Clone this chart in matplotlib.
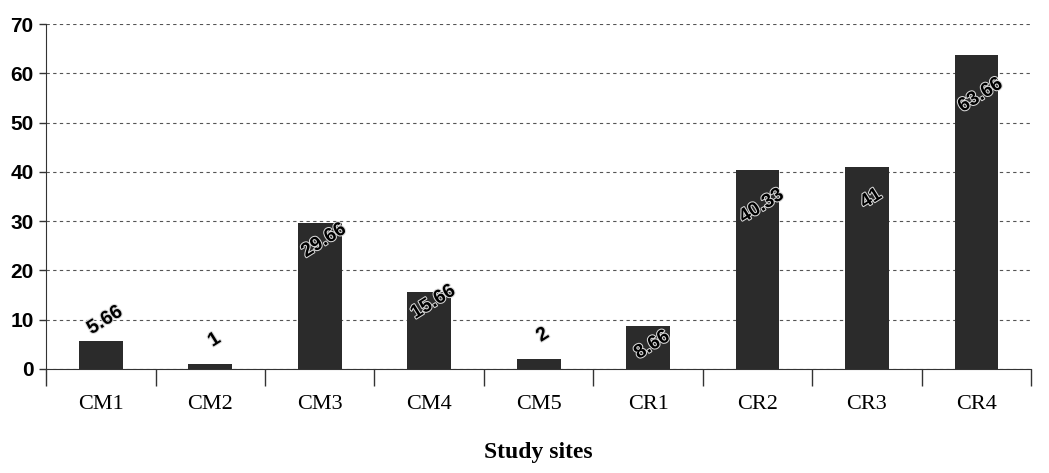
import matplotlib
matplotlib.use("Agg")
import matplotlib.pyplot as plt
import matplotlib.patheffects as pe
import numpy as np

sites = ["CM1", "CM2", "CM3", "CM4", "CM5", "CR1", "CR2", "CR3", "CR4"]
values = [5.66, 1, 29.66, 15.66, 2, 8.66, 40.33, 41, 63.66]
value_text = ["5.66", "1", "29.66", "15.66", "2", "8.66", "40.33", "41", "63.66"]
# height (in data units) where each value label sits
label_y = [9.8, 5.8, 26, 13.5, 6.8, 4.8, 33, 34.5, 55.5]

fig = plt.figure(figsize=(10.49, 4.73), dpi=100)
ax = fig.add_axes([0.044, 0.22, 0.939, 0.729])

x = np.arange(len(sites))
ax.bar(x, values, width=0.40, color="#2b2b2b", zorder=3)

for xi, t, ly in zip(x, value_text, label_y):
    ax.text(xi + 0.04, ly, t, rotation=32, ha="center", va="center",
            fontsize=14, fontweight="bold", family="Liberation Sans",
            color="black", zorder=4,
            path_effects=[pe.withStroke(linewidth=1.5, foreground="#d8d8d8")])

ax.set_xlim(-0.5, len(sites) - 0.5)
ax.set_ylim(0, 70)
ax.set_yticks(range(0, 71, 10))
ax.yaxis.grid(True, linestyle=(0, (3, 3)), color="#555555", linewidth=0.8, zorder=0)

# category labels centred under the bars, tick marks between the bars
ax.set_xticks(x)
ax.set_xticklabels(sites, family="Liberation Serif", fontsize=16)
ax.tick_params(axis="x", which="major", length=0, pad=19)
ax.set_xticks(np.arange(-0.5, len(sites)), minor=True)
ax.tick_params(axis="x", which="minor", length=12, width=1, color="#333333")
ax.tick_params(axis="y", length=5, width=1, color="#333333", pad=4)
for lab in ax.get_yticklabels():
    lab.set_family("Liberation Sans")
    lab.set_fontsize(15)
    lab.set_fontweight("bold")

ax.spines["top"].set_visible(False)
ax.spines["right"].set_visible(False)
ax.spines["left"].set_color("#333333")
ax.spines["bottom"].set_color("#333333")

ax.set_xlabel("Study sites", family="Liberation Serif", fontsize=17,
              fontweight="bold", labelpad=20)

fig.savefig("out.png", dpi=100)
